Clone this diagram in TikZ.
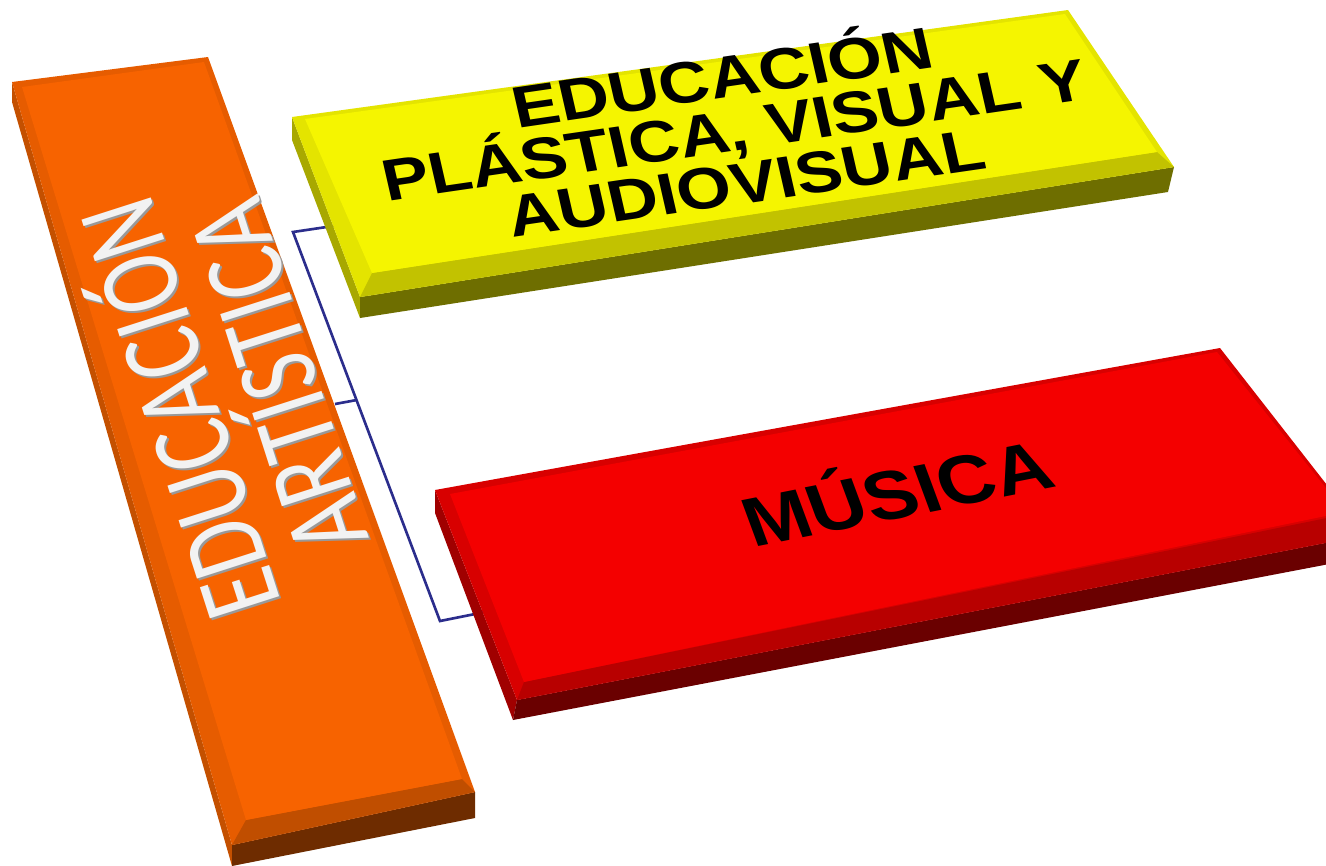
\documentclass[tikz,border=0pt]{standalone}
\usepackage{fontspec}
\usepackage{tikz}
\usetikzlibrary{calc}
\newfontfamily\boxfont{Liberation Sans}
\newfontfamily\barfont{Carlito}
\definecolor{linkblue}{HTML}{2B2D8C}
\definecolor{orangetop}{HTML}{F76300}
\definecolor{orangebevel}{HTML}{E65C00}
\definecolor{orangeedge}{HTML}{C04E00}
\definecolor{orangeside}{HTML}{C45000}
\definecolor{orangefront}{HTML}{6E2C00}
\definecolor{yellowtop}{HTML}{F5F500}
\definecolor{yellowbevel}{HTML}{E4E400}
\definecolor{yellowedge}{HTML}{C2C200}
\definecolor{yellowside}{HTML}{A8A800}
\definecolor{yellowfront}{HTML}{6E6E00}
\definecolor{redtop}{HTML}{F40000}
\definecolor{redbevel}{HTML}{D80000}
\definecolor{rededge}{HTML}{B80000}
\definecolor{redside}{HTML}{A00000}
\definecolor{redfront}{HTML}{6A0000}
\newcommand\tallline[1]{\scalebox{1}[1.3]{#1}}
\newcommand\wideline[1]{\scalebox{1.19}[1]{#1}}
\newcommand\tightlines{\lineskiplimit=-20pt\relax\lineskip=0pt\relax}

\begin{document}
\begin{tikzpicture}[x=0.01cm, y=-0.01cm,
	link/.style={line width=0.75pt, color=linkblue},
	boxtext/.style={font=\boxfont\bfseries\fontsize{16.7}{15.3}\selectfont\tightlines, align=center, inner sep=0pt},
	bartext/.style={font=\barfont\fontsize{24.8}{29.3}\selectfont\tightlines, align=center, inner sep=0pt, text=white!95!black, rotate=107.8}]
			%%%%% START %%%%%
			\useasboundingbox (0,0) rectangle (1326,866);
			\clip (0,0) rectangle (1326,866);
			
			% connectors
			\coordinate (topK) at (293,232);
			\coordinate (botK) at (440,621);
			\coordinate (midK) at ($(topK)!0.432!(botK)$);
			\coordinate (artOut) at (335,404);
			\coordinate (plaIn) at (340,225);
			\coordinate (musIn) at (485,612);
			\draw[link] (plaIn) -- (topK) -- (botK) -- (musIn);
			\draw[link] (artOut) -- (midK);
			
			% orange bar
			\fill[orangeside] (12,82) -- (232,845) -- (232,866) -- (12,102) -- cycle;
			\fill[orangefront] (232,845) -- (475,792) -- (475,818) -- (232,866) -- cycle;
			\fill[orangebevel] (12,82) -- (208,57) -- (475,792) -- (232,845) -- cycle;
			\fill[orangeedge] (232,845) -- (475,792) -- (462,779) -- (246,820) -- cycle;
			\fill[orangetop] (22,87) -- (204,62) -- (462,779) -- (246,820) -- cycle;
			
			\node[bartext, text=black!40] at (222,398) {\tallline{EDUCACIÓN}\\\tallline{ARTÍSTICA}};
			\node[bartext] (art) at (220,396) {\tallline{EDUCACIÓN}\\\tallline{ARTÍSTICA}};
			
			% yellow box
			\fill[yellowside] (292,117) -- (360,297) -- (360,318) -- (292,140) -- cycle;
			\fill[yellowfront] (360,297) -- (1174,167) -- (1168,192) -- (360,318) -- cycle;
			\fill[yellowbevel] (292,117) -- (1068,10) -- (1174,167) -- (360,297) -- cycle;
			\fill[yellowedge] (360,297) -- (1174,167) -- (1157,152) -- (372,273) -- cycle;
			\fill[yellowtop] (305,119) -- (1065,14) -- (1157,152) -- (372,273) -- cycle;
			
			\node[boxtext, rotate=8.3, xslant=-0.08] (pla) at (733,125) {\wideline{EDUCACIÓN}\\\wideline{PLÁSTICA, VISUAL Y}\\\wideline{AUDIOVISUAL}};
			
			% red box
			\fill[redside] (435,490) -- (517,700) -- (513,720) -- (435,513) -- cycle;
			\fill[redfront] (517,700) -- (1366,535) -- (1366,557) -- (513,720) -- cycle;
			\fill[redbevel] (435,490) -- (1220,348) -- (1366,535) -- (517,700) -- cycle;
			\fill[rededge] (517,700) -- (1366,535) -- (1366,510) -- (524,682) -- cycle;
			\fill[redtop] (450,494) -- (1217,352) -- (1345,512) -- (524,682) -- cycle;
			
			\node[boxtext, font=\boxfont\bfseries\fontsize{19.9}{24}\selectfont, anchor=base, rotate=11.2, xslant=-0.16] (mus) at (906,517) {\scalebox{1.13}[1]{MÚSICA}};
			
			%%%%% END %%%%%
		\end{tikzpicture}
\end{document}
